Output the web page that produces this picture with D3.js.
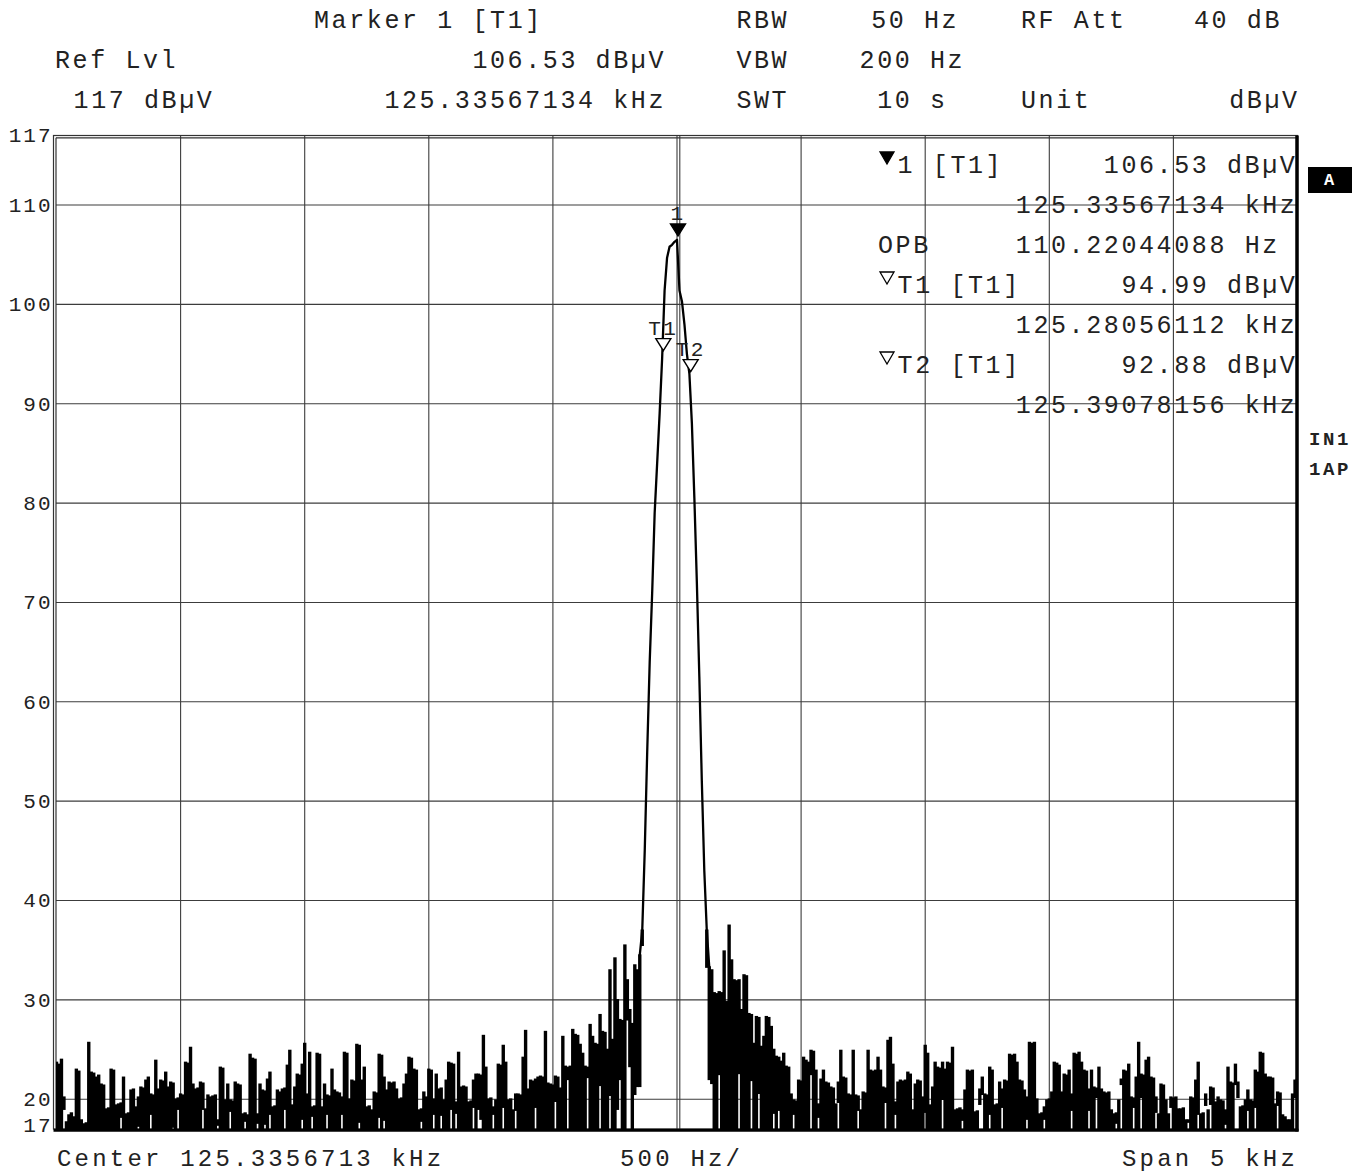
<!DOCTYPE html>
<html>
<head>
<meta charset="utf-8">
<script src="https://cdn.jsdelivr.net/npm/d3@7"></script>
<style>
  html, body { margin: 0; padding: 0; background: #fff; }
  svg { display: block; }
  text { font-family: "Courier New", "Liberation Mono", monospace; fill: #222; }
</style>
</head>
<body>
<div id="chart"></div>
<script>
// sweep settings
const centerKHz = 125.3356713;
const spanKHz = 5;
const levelMin = 17;
const levelMax = 117;
const yTicks = [117, 110, 100, 90, 80, 70, 60, 50, 40, 30, 20, 17];

// trace 1 (auto peak), 501 points, dBµV - upper value of each bin
const traceMax = [
  23.7, 23.5, 24.0, 20.2, 17.7, 18.4, 18.6, 18.2, 23.0, 22.8,
  17.9, 17.5, 17.6, 25.7, 22.7, 22.6, 22.2, 22.4, 21.5, 21.4,
  19.0, 19.1, 23.0, 22.9, 19.4, 19.5, 19.6, 22.2, 18.5, 18.6,
  20.9, 21.0, 19.2, 20.2, 21.2, 21.1, 21.9, 22.2, 20.5, 20.4,
  23.9, 21.0, 21.9, 21.8, 22.7, 21.2, 21.7, 21.6, 20.0, 20.1,
  20.5, 20.4, 23.7, 23.6, 25.2, 21.5, 21.0, 21.1, 21.7, 21.6,
  19.0, 20.4, 20.2, 20.3, 20.4, 17.9, 23.2, 23.1, 19.9, 21.5,
  19.9, 19.8, 21.7, 21.5, 21.4, 18.5, 18.6, 18.4, 24.5, 24.1,
  24.0, 18.5, 21.5, 20.9, 20.8, 22.0, 22.7, 19.2, 19.3, 20.9,
  20.7, 21.0, 21.1, 23.4, 24.9, 19.4, 21.2, 22.5, 22.4, 23.5,
  25.6, 20.5, 24.7, 19.2, 19.3, 24.6, 24.5, 19.2, 21.5, 20.4,
  20.3, 23.0, 20.9, 20.7, 20.6, 20.2, 24.7, 24.6, 20.0, 21.9,
  21.8, 25.5, 25.4, 21.9, 23.2, 19.2, 19.3, 18.9, 20.7, 20.6,
  24.5, 24.4, 22.2, 20.9, 21.7, 21.6, 21.7, 21.0, 20.0, 20.1,
  21.5, 22.5, 24.2, 24.1, 23.0, 22.9, 18.9, 19.0, 20.7, 20.2,
  23.0, 22.9, 20.0, 22.5, 21.0, 21.1, 19.9, 21.9, 23.7, 23.6,
  23.5, 19.7, 24.7, 21.2, 21.3, 21.2, 19.7, 19.8, 21.9, 22.5,
  22.5, 22.4, 26.4, 23.2, 20.0, 20.1, 19.2, 19.9, 23.5, 23.4,
  25.4, 23.7, 19.9, 20.0, 18.9, 20.5, 20.5, 20.4, 24.2, 26.9,
  21.0, 21.9, 21.8, 22.0, 22.2, 22.3, 22.2, 26.8, 21.6, 21.5,
  21.4, 22.3, 22.2, 21.1, 26.3, 23.3, 23.2, 23.3, 27.0, 26.5,
  26.4, 25.5, 24.6, 23.3, 23.2, 27.5, 26.3, 25.6, 25.5, 28.5,
  26.8, 26.7, 25.0, 33.0, 26.0, 34.2, 30.0, 28.0, 27.9, 35.5,
  32.0, 29.0, 27.6, 33.5, 33.0, 34.5, 37.0, 45.0, 55.0, 64.0,
  71.0, 79.0, 84.0, 89.0, 94.5, 101.4, 104.7, 105.8, 106.0, 106.3,
  106.5, 101.4, 100.3, 98.0, 95.0, 93.0, 88.0, 80.5, 72.0, 62.5,
  52.0, 43.0, 37.0, 33.3, 33.0, 30.7, 30.6, 30.8, 30.7, 34.9,
  29.8, 37.5, 34.0, 32.0, 31.9, 32.0, 29.0, 32.5, 32.4, 28.6,
  28.5, 25.6, 28.3, 28.2, 25.3, 26.3, 28.3, 28.2, 27.3, 25.0,
  24.3, 24.2, 23.8, 24.6, 23.3, 23.2, 20.5, 19.9, 19.8, 21.9,
  21.8, 24.2, 23.9, 23.7, 24.9, 24.8, 22.9, 19.5, 22.0, 22.9,
  21.7, 21.6, 21.2, 21.1, 19.5, 21.7, 24.9, 22.2, 22.1, 20.5,
  20.4, 24.9, 20.4, 20.3, 18.9, 20.7, 20.6, 24.9, 22.9, 22.8,
  22.9, 24.2, 22.9, 21.2, 21.1, 25.9, 26.2, 23.5, 19.7, 21.7,
  21.9, 21.8, 21.9, 22.7, 22.5, 18.9, 21.5, 21.9, 21.8, 20.2,
  25.4, 24.6, 19.4, 21.2, 23.7, 23.2, 23.1, 23.7, 23.0, 23.7,
  23.6, 25.2, 18.9, 19.0, 19.1, 18.9, 20.9, 22.9, 22.8, 22.9,
  18.7, 18.8, 21.0, 22.2, 20.5, 20.4, 23.2, 22.9, 19.4, 19.5,
  21.7, 21.0, 21.9, 21.8, 24.5, 24.4, 24.5, 23.7, 21.9, 21.8,
  20.9, 20.2, 25.7, 25.6, 25.7, 20.0, 18.5, 18.6, 19.2, 19.9,
  20.0, 20.7, 23.7, 23.6, 23.4, 20.7, 22.5, 22.4, 22.9, 20.5,
  24.6, 24.5, 24.7, 23.7, 22.9, 22.8, 21.0, 22.9, 21.2, 21.1,
  23.2, 21.0, 20.7, 20.6, 20.7, 18.9, 18.5, 18.6, 19.9, 22.0,
  22.9, 22.8, 23.5, 20.2, 20.1, 22.2, 25.7, 22.5, 22.4, 23.9,
  24.2, 22.2, 22.1, 20.2, 18.5, 21.5, 21.4, 19.9, 18.5, 20.2,
  20.1, 20.2, 19.0, 19.0, 19.1, 17.9, 17.9, 20.2, 20.1, 21.9,
  23.7, 18.5, 18.6, 20.5, 18.9, 21.2, 21.1, 19.7, 20.2, 19.9,
  19.8, 18.9, 23.2, 21.7, 21.6, 23.5, 21.7, 19.2, 19.3, 19.9,
  20.9, 19.9, 19.8, 22.9, 22.7, 24.7, 24.6, 22.5, 22.2, 22.2,
  22.1, 19.5, 20.7, 20.6, 18.4, 18.2, 17.9, 17.9, 20.5, 21.9,
  22.0
];

// bins whose lower value stays above the display floor
const gapIndex = [
  3, 26, 33, 38, 47, 49, 59, 65, 70, 76, 81, 84, 86, 92, 99, 103, 109, 115, 122, 130,
  132, 147, 152, 155, 159, 161, 168, 170, 171, 176, 180, 185, 193,
  201, 206, 214, 219, 223, 226, 227, 230, 231, 233, 234, 235,
  236, 237, 238, 239, 240, 241, 242, 243, 244, 245, 246, 247, 248, 249, 250,
  251, 252, 253, 254, 255, 256, 257, 258, 259, 260, 261, 262,
  263, 264, 267, 275, 280, 283, 289, 291,
  297, 304, 307, 315, 323, 334, 338, 350, 357, 365, 372, 373, 376, 381, 391, 398,
  409, 416, 419, 427, 429, 434, 437, 443, 449, 456, 460, 463, 465, 471, 475, 476,
  480, 483, 492, 499
];
const gapMin = [
  19.0, 18.2, 17.3, 18.5, 17.2, 19.0, 19.0, 17.4, 18.8, 17.8, 17.6, 17.5, 18.5, 19.0, 18.0, 18.3, 18.5, 18.5, 17.7, 18.2,
  17.9, 17.8, 18.5, 18.4, 19.0, 18.6, 19.2, 19.0, 18.0, 18.5, 19.2, 18.9, 19.2,
  19.8, 22.0, 22.2, 21.4, 20.4, 19.0, 22.0, 28.0, 23.3, 20.5, 21.3, 21.3,
  35.5, 45.0, 55.0, 64.0, 71.0, 79.0, 84.0, 89.0, 94.5, 101.4, 104.7, 105.8, 106.0, 106.3, 106.5,
  101.4, 100.3, 98.0, 95.0, 93.0, 88.0, 80.5, 72.0, 62.5, 52.0, 43.0, 33.3,
  22.0, 21.6, 22.5, 22.6, 21.9, 20.6, 18.6, 18.9,
  18.5, 22.5, 18.2, 19.7, 18.9, 19.7, 18.5, 18.7, 20.0, 17.9, 19.5, 20.5, 18.5, 19.2, 18.0, 18.0,
  18.9, 18.9, 20.2, 17.6, 21.5, 19.2, 20.2, 18.7, 19.2, 17.7, 18.5, 19.4, 19.5, 17.5, 21.5, 20.2,
  18.9, 19.2, 19.4, 20.2
];
// bins drawn as the connected signal line
const lobeFirst = 235, lobeLast = 263;

// markers
const markerName = ["1", "T1", "T2"];
const markerFreq = [125.33567134, 125.28056112, 125.39078156];
const markerLevel = [106.53, 94.99, 92.88];
const opbHz = 110.22044088;

const width = 1367, height = 1174;
const svg = d3.select("#chart").append("svg")
  .attr("width", width)
  .attr("height", height);

const fStart = centerKHz - spanKHz / 2;
const fStop = centerKHz + spanKHz / 2;
const x = d3.scaleLinear().domain([fStart, fStop]).range([56.5, 1297.5]);
const y = d3.scaleLinear().domain([levelMin, levelMax]).range([1129, 135.5]);
const fAt = i => fStart + i * spanKHz / (traceMax.length - 1);
const clampV = v => Math.max(levelMin, Math.min(levelMax, v));

const font = 25, adv = 17.6;
function put(g, str, xs, yb, opts = {}) {
  const fs = opts.fs || font;
  const a = opts.adv || adv;
  return g.append("text")
    .attr("x", xs)
    .attr("y", yb)
    .attr("font-size", fs)
    .attr("letter-spacing", a - 0.6 * fs)
    .attr("font-weight", opts.bold ? "bold" : null)
    .attr("text-anchor", opts.anchor || "start")
    .style("white-space", "pre")
    .style("fill", opts.fill || null)
    .text(str);
}

// grid
const grid = svg.append("g").attr("stroke", "#3c3c3c").attr("stroke-width", 1.1);
grid.selectAll("line.h")
  .data(d3.range(20, 111, 10))
  .join("line")
  .attr("x1", 56).attr("x2", 1297)
  .attr("y1", d => y(d)).attr("y2", d => y(d));
grid.selectAll("line.v")
  .data(d3.range(1, 10).map(k => fStart + k * spanKHz / 10))
  .join("line")
  .attr("x1", d => x(d)).attr("x2", d => x(d))
  .attr("y1", y(levelMax)).attr("y2", y(levelMin));
// second line of the centre pair
grid.append("line")
  .attr("x1", x(centerKHz) + 2.8).attr("x2", x(centerKHz) + 2.8)
  .attr("y1", y(levelMax)).attr("y2", y(levelMin));

// frame
const frame = svg.append("g").attr("fill", "none");
frame.append("rect")
  .attr("x", 53.5).attr("y", y(levelMax))
  .attr("width", 1297.5 - 53.5).attr("height", y(levelMin) - y(levelMax))
  .attr("stroke", "#333").attr("stroke-width", 1.2);
frame.append("line")
  .attr("x1", 56).attr("x2", 56).attr("y1", y(levelMax) + 2.3).attr("y2", y(levelMin))
  .attr("stroke", "#333").attr("stroke-width", 1.2);
frame.append("line")
  .attr("x1", 56).attr("x2", 1297).attr("y1", y(levelMax) + 2.3).attr("y2", y(levelMax) + 2.3)
  .attr("stroke", "#333").attr("stroke-width", 1.2);

// trace
const clip = svg.append("clipPath").attr("id", "plotclip");
clip.append("rect")
  .attr("x", 56).attr("y", y(levelMax))
  .attr("width", 1297 - 56).attr("height", y(levelMin) - y(levelMax));

const lowAt = traceMax.map(() => levelMin);
gapIndex.forEach((gi, k) => { lowAt[gi] = gapMin[k]; });
const step = x(fAt(1)) - x(fAt(0));
const binH = (d, i) => y(clampV(lowAt[i])) - y(clampV(d));

const trace = svg.append("g").attr("clip-path", "url(#plotclip)");
trace.selectAll("rect.bin")
  .data(traceMax)
  .join("rect")
  .attr("class", "bin")
  .attr("x", (d, i) => x(fAt(i)) - (step + 0.9) / 2)
  .attr("width", step + 0.9)
  .attr("y", d => y(clampV(d)) - 0.8)
  .attr("height", (d, i) => binH(d, i) > 0 ? binH(d, i) + 1.6 : 0)
  .attr("fill", "#000");

trace.append("path")
  .datum(traceMax)
  .attr("fill", "none")
  .attr("stroke", "#000")
  .attr("stroke-width", 2.3)
  .attr("stroke-linejoin", "round")
  .attr("d", d3.line()
    .defined((d, i) => i >= lobeFirst && i <= lobeLast)
    .x((d, i) => x(fAt(i)))
    .y(d => y(clampV(d))));

// markers on the trace
const tri = (cx, tip) => `M${cx - 7.5},${tip - 12}L${cx + 7.5},${tip - 12}L${cx},${tip}Z`;
markerName.forEach((name, k) => {
  const cx = x(markerFreq[k]) + (k === 0 ? 1 : 0);
  const tip = y(markerLevel[k]) - 3.5;
  svg.append("path")
    .attr("d", tri(cx, tip))
    .attr("fill", k === 0 ? "#000" : "#fff")
    .attr("stroke", "#000")
    .attr("stroke-width", 1.4);
  put(svg, name, cx, tip - 16, { fs: 21, adv: 15, anchor: "middle" });
});

// thick right and bottom borders
svg.append("line")
  .attr("x1", 1297).attr("x2", 1297).attr("y1", y(levelMax)).attr("y2", y(levelMin) + 2.5)
  .attr("stroke", "#000").attr("stroke-width", 3.5);
svg.append("line")
  .attr("x1", 53.5).attr("x2", 1298.5).attr("y1", y(levelMin) + 1.2).attr("y2", y(levelMin) + 1.2)
  .attr("stroke", "#000").attr("stroke-width", 3);

// level labels
const ylab = svg.append("g");
yTicks.forEach(v => {
  const yb = v === levelMin ? y(v) + 3 : y(v) + 6.8;
  put(ylab, String(v), 52.5, yb, { fs: 21, adv: 14.6, anchor: "end" });
});

// header
const hdr = svg.append("g");
const hc = k => 50 + k * adv;
put(hdr, "Marker 1 [T1]", hc(15), 28);
put(hdr, "RBW", hc(39), 28);
put(hdr, "50 Hz", hc(47) - 6, 28);
put(hdr, "RF Att", hc(55) + 3, 28);
put(hdr, "40 dB", hc(65), 28);
put(hdr, "Ref Lvl", hc(0) + 5, 68);
put(hdr, markerLevel[0].toFixed(2) + " dBµV", hc(24), 68);
put(hdr, "VBW", hc(39), 68);
put(hdr, "200 Hz", hc(46), 68);
put(hdr, levelMax + " dBµV", hc(1) + 6, 108);
put(hdr, markerFreq[0].toFixed(8) + " kHz", hc(19), 108);
put(hdr, "SWT", hc(39), 108);
put(hdr, "10 s", hc(47), 108);
put(hdr, "Unit", hc(55) + 3, 108);
put(hdr, "dBµV", hc(67), 108);

// marker table inside the grid
const tab = svg.append("g");
const tc = k => 875 + k * adv;
const rowB = r => 173 + r * 40;
const tabTri = (r, filled) => {
  const b = rowB(r);
  tab.append("path")
    .attr("d", `M${tc(0) + 5},${b - 21}L${tc(0) + 19},${b - 21}L${tc(0) + 12},${b - 9}Z`)
    .attr("fill", filled ? "#000" : "#fff")
    .attr("stroke", "#000")
    .attr("stroke-width", 1.3);
};
tabTri(0, true);
put(tab, markerName[0] + " [T1]", tc(1) + 5, rowB(0));
put(tab, markerLevel[0].toFixed(2) + " dBµV", tc(13), rowB(0));
put(tab, markerFreq[0].toFixed(8) + " kHz", tc(8), rowB(1));
put(tab, "OPB", tc(0) + 3, rowB(2));
put(tab, opbHz.toFixed(8) + " Hz", tc(8), rowB(2));
tabTri(3, false);
put(tab, markerName[1] + " [T1]", tc(1) + 5, rowB(3));
put(tab, markerLevel[1].toFixed(2) + " dBµV", tc(14), rowB(3));
put(tab, markerFreq[1].toFixed(8) + " kHz", tc(8), rowB(4));
tabTri(5, false);
put(tab, markerName[2] + " [T1]", tc(1) + 5, rowB(5));
put(tab, markerLevel[2].toFixed(2) + " dBµV", tc(14), rowB(5));
put(tab, markerFreq[2].toFixed(8) + " kHz", tc(8), rowB(6));

// side annotations
svg.append("rect")
  .attr("x", 1308).attr("y", 167).attr("width", 44).attr("height", 26)
  .attr("fill", "#000");
put(svg, "A", 1330, 185, { fs: 17, adv: 12, anchor: "middle", bold: true, fill: "#fff" });
put(svg, "IN1", 1309, 445, { fs: 19, adv: 14, bold: true });
put(svg, "1AP", 1309, 475, { fs: 19, adv: 14, bold: true });

// footer
put(svg, "Center " + centerKHz.toFixed(7) + " kHz", 57, 1166, { fs: 24 });
put(svg, (spanKHz * 100) + " Hz/", 620, 1166, { fs: 24 });
put(svg, "Span " + spanKHz + " kHz", 1122, 1166, { fs: 24 });
</script>
</body>
</html>
